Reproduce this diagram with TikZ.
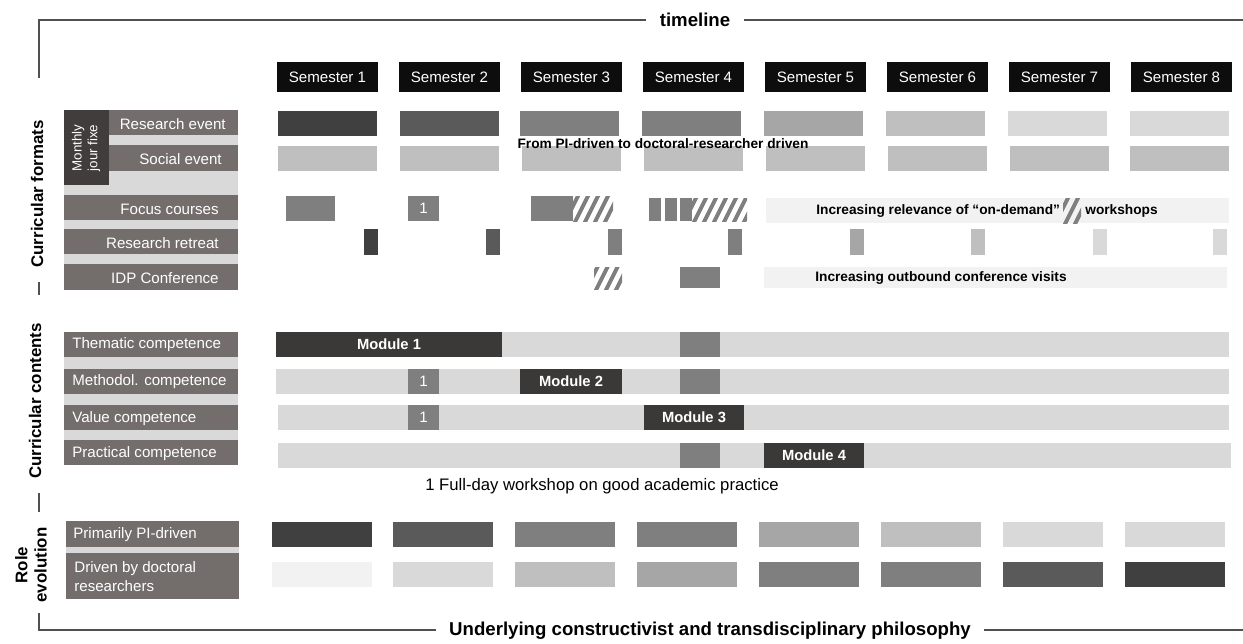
\documentclass[tikz,border=0pt]{standalone}
\usepackage{fontspec}
\setmainfont{Liberation Sans}
\usetikzlibrary{positioning}
\definecolor{g1}{HTML}{404040}
\definecolor{g2}{HTML}{5A5A5A}
\definecolor{g3}{HTML}{7F7F7F}
\definecolor{g4}{HTML}{A6A6A6}
\definecolor{g5}{HTML}{BFBFBF}
\definecolor{g6}{HTML}{D9D9D9}
\definecolor{g7}{HTML}{F2F2F2}
\definecolor{semblack}{HTML}{0D0D0D}
\definecolor{lblgray}{HTML}{736E6C}
\definecolor{jourdark}{HTML}{403D3C}
\definecolor{moddark}{HTML}{3B3838}
\definecolor{framegray}{HTML}{505050}
\tikzset{
  sem/.style={fill=semblack, text=white, minimum width=2.02cm, minimum height=0.6cm, inner sep=0pt, font=\fontsize{8.6}{10}\selectfont},
  lbltxt/.style={text=white, inner sep=0pt, yshift=-0.02cm, font=\fontsize{8.6}{10.8}\selectfont},
  side/.style={rotate=90, align=center, inner sep=0pt, font=\bfseries\fontsize{9.6}{11}\selectfont},
  ttl/.style={inner xsep=0.26cm, inner ysep=0pt, font=\bfseries\fontsize{10.6}{12}\selectfont},
  note/.style={inner sep=0pt, font=\bfseries\fontsize{7.8}{9}\selectfont},
  module/.style={fill=moddark, text=white, minimum height=0.5cm, inner sep=0pt, font=\bfseries\fontsize{8.4}{10}\selectfont},
  onebox/.style={fill=g3, text=white, minimum width=0.62cm, minimum height=0.5cm, inner sep=0pt, font=\fontsize{8.6}{10}\selectfont},
  frame/.style={draw=framegray, line width=0.75pt},
  hatchline/.style={draw=g3, line width=2.2pt}
}
\newcommand{\hatchrect}[4]{%
  \begin{scope}
    \clip (#1,#2) rectangle (#3,#4);
    \foreach \k in {0,...,9}
      \draw[hatchline] ({#1-20+10*\k},{#4+5}) -- ++(18,-36);
  \end{scope}}

\begin{document}
\begin{tikzpicture}[x=0.02cm,y=-0.02cm]
  \useasboundingbox (0,0) rectangle (1243,643);

  % frame round the chart
  \node[ttl] (tline) at (695,20) {timeline};
  \node[ttl] (phil) at (710,631) {Underlying constructivist and transdisciplinary philosophy};
  \coordinate (ftl) at (39,20);
  \coordinate (fa) at (39,78);
  \coordinate (fb1) at (39,282);
  \coordinate (fb2) at (39,295);
  \coordinate (fc1) at (39,493);
  \coordinate (fc2) at (39,512);
  \coordinate (fd) at (39,613);
  \coordinate (fbl) at (39,630);
  \coordinate (ftr) at (1243,20);
  \coordinate (fbr) at (1243,630);
  \draw[frame] (tline.west) -- (ftl) -- (fa);
  \draw[frame] (tline.east) -- (ftr);
  \draw[frame] (fb1) -- (fb2);
  \draw[frame] (fc1) -- (fc2);
  \draw[frame] (fd) -- (fbl) -- (fbl -| phil.west);
  \draw[frame] (phil.east |- fbr) -- (fbr);

  \node[side] (fmt) at (37,194) {Curricular formats};
  \node[side] (cnt) at (35,401) {Curricular contents};
  \node[side] (role) at (31,565) {Role\\evolution};

  % semesters
  \foreach \i in {1,...,8}
    \node[sem] (sem\i) at ({327.5+122*(\i-1)},77) {Semester \i};

  % left labels, curricular formats
  \fill[g6] (64,110) rectangle (238,290);
  \fill[jourdark] (64,110) rectangle (109,185);
  \fill[lblgray] (109,110) rectangle (238,135);
  \fill[lblgray] (109,145) rectangle (238,171);
  \fill[lblgray] (64,195) rectangle (238,220);
  \fill[lblgray] (64,229) rectangle (238,254);
  \fill[lblgray] (64,264) rectangle (238,290);
  \node[lbltxt, rotate=90, align=left, font=\fontsize{7.6}{9}\selectfont] (jour) at (86,147) {Monthly\\jour fixe};
  \node[lbltxt, anchor=east] (resev) at (226,123) {Research event};
  \node[lbltxt, anchor=east] (socev) at (222,158) {Social event};
  \node[lbltxt, anchor=east] (focus) at (219,208) {Focus courses};
  \node[lbltxt, anchor=east] (retr) at (219,242) {Research retreat};
  \node[lbltxt, anchor=east] (idp) at (219,277) {IDP Conference};

  % left labels, curricular contents
  \fill[g6] (64,332) rectangle (238,465);
  \fill[lblgray] (64,332) rectangle (238,357);
  \fill[lblgray] (64,369) rectangle (238,394);
  \fill[lblgray] (64,405) rectangle (238,430);
  \fill[lblgray] (64,440) rectangle (238,465);
  \node[lbltxt, anchor=west] (them) at (72,344) {Thematic competence};
  \node[lbltxt, anchor=west] (meth) at (72,381) {Methodol. competence};
  \node[lbltxt, anchor=west] (val) at (72,418) {Value competence};
  \node[lbltxt, anchor=west] (prac) at (72,453) {Practical competence};

  % left labels, role evolution
  \fill[g6] (66,521) rectangle (239,599);
  \fill[lblgray] (66,521) rectangle (239,547);
  \fill[lblgray] (66,553) rectangle (239,599);
  \node[lbltxt, anchor=west] (pidrv) at (73,534) {Primarily PI-driven};
  \node[lbltxt, anchor=west, align=left] (drdrv) at (74,576) {Driven by doctoral\\researchers};

  % research event and social event
  \foreach \x/\c in {278/g1,400/g2,520/g3,642/g3,764/g4,886/g5,1008/g6,1130/g6}
    \fill[\c] (\x,111) rectangle ++(99,25);
  \foreach \x in {278,400,522,644,766,888,1010,1130}
    \fill[g5] (\x,146) rectangle ++(99,25);
  \node[note] (pitodr) at (663,144) {From PI-driven to doctoral-researcher driven};

  % focus courses
  \fill[g7] (766,198) rectangle (1229,223);
  \fill[g3] (286,196) rectangle (335,221);
  \node[onebox] (ws1) at (423.5,208.5) {1};
  \fill[g3] (531,196) rectangle (573,221);
  \hatchrect{573}{196}{613}{221}
  \foreach \x in {649,665,680}
    \fill[g3] (\x,198) rectangle ++(12,23);
  \hatchrect{692}{198}{747}{221}
  \node[note, anchor=west] (ondem) at (816,210.5) {Increasing relevance of “on-demand”};
  \hatchrect{1063}{198}{1081}{223}
  \node[note, anchor=west] (wshop) at (1085,210.5) {workshops};

  % research retreat
  \foreach \x/\c in {378/g1,500/g2,622/g3,742/g3,864/g4,985/g5,1107/g6,1227/g6}
    \fill[\c] (\x-14,229) rectangle (\x,255);

  % idp conference
  \fill[g7] (764,267) rectangle (1227,288);
  \hatchrect{594}{267}{622}{289}
  \fill[g3] (680,267) rectangle (720,288);
  \node[note, anchor=west] (outb) at (815,277.5) {Increasing outbound conference visits};

  % curricular contents
  \fill[g6] (276,332) rectangle (1229,357);
  \fill[g3] (680,332) rectangle (720,357);
  \node[module, minimum width=4.52cm] (mod1) at (389,344.5) {Module 1};
  \fill[g6] (276,369) rectangle (1229,394);
  \fill[g3] (680,369) rectangle (720,394);
  \node[onebox] (ws2) at (423.5,381.5) {1};
  \node[module, minimum width=2.04cm] (mod2) at (571,381.5) {Module 2};
  \fill[g6] (278,405) rectangle (1229,430);
  \node[onebox] (ws3) at (423.5,417.5) {1};
  \node[module, minimum width=2cm] (mod3) at (694,417.5) {Module 3};
  \fill[g6] (278,443) rectangle (1231,468);
  \fill[g3] (680,443) rectangle (720,468);
  \node[module, minimum width=2cm] (mod4) at (814,455.5) {Module 4};
  \node[inner sep=0pt, font=\fontsize{9.5}{11}\selectfont] (foot) at (602,486) {1 Full-day workshop on good academic practice};

  % role evolution
  \foreach \x/\c/\d in {272/g1/g7,393/g2/g6,515/g3/g5,637/g3/g4,759/g4/g3,881/g5/g3,1003/g6/g2,1125/g6/g1} {
    \fill[\c] (\x,522) rectangle ++(100,25);
    \fill[\d] (\x,562) rectangle ++(100,25);
  }
\end{tikzpicture}
\end{document}
